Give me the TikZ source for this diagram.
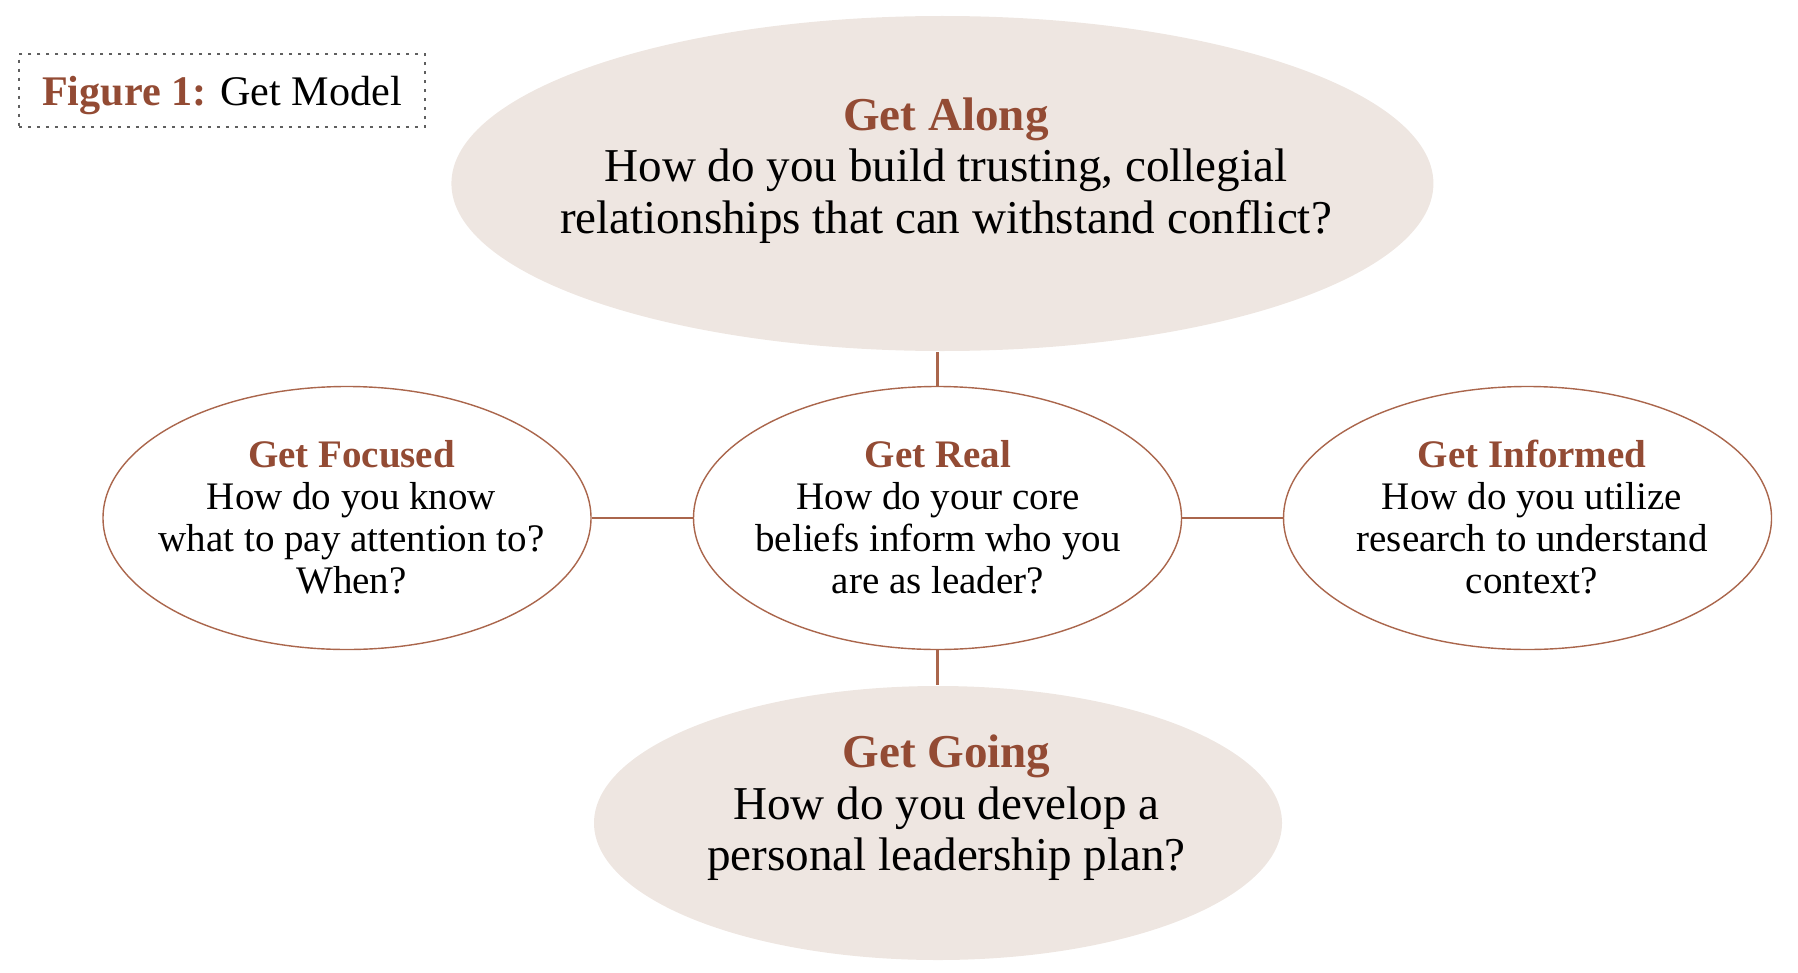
\documentclass[tikz,border=0pt]{standalone}
\usepackage{fontspec}
\setmainfont{Liberation Serif}
\usetikzlibrary{shapes.geometric, positioning}

\definecolor{getbrown}{RGB}{147,75,52}
\definecolor{getline}{RGB}{170,102,76}
\definecolor{getfill}{RGB}{238,230,225}
\definecolor{dotgray}{RGB}{95,95,95}

\newcommand{\gettitle}[1]{\textcolor{getbrown}{\textbf{#1}}}

\tikzset{
  bigblob/.style={ellipse, fill=getfill, inner sep=0pt},
  smallblob/.style={ellipse, draw=getline, line width=0.4pt, inner sep=0pt,
    minimum width=48.8mm, minimum height=26.3mm},
  link/.style={draw=getline, line width=0.6pt},
  bigtxt/.style={align=center, inner sep=0pt, anchor=base,
    font=\fontsize{13.4}{14.65}\selectfont},
  smalltxt/.style={align=center, inner sep=0pt, anchor=base,
    font=\fontsize{11.1}{11.95}\selectfont},
}

\begin{document}
\begin{tikzpicture}[x=0.1mm, y=-0.1mm]
  \useasboundingbox (0,0) rectangle (1798,972);

  % caption box
  \node[draw=dotgray, line width=0.8pt, dash pattern=on 0.8pt off 1.76pt,
    minimum width=40.6mm, minimum height=7.3mm, inner sep=0pt,
    text height=8.3pt, text depth=0pt, font=\fontsize{12}{14}\selectfont]
    (caption) at (222,90.5) {\gettitle{Figure 1:} Get Model};

  % ellipses
  \node[bigblob, minimum width=98.2mm, minimum height=33.5mm] (along) at (942.4,183.5) {};
  \node[bigblob, minimum width=68.8mm, minimum height=27.4mm] (going) at (938,823) {};
  \node[smallblob] (focused) at (347,518) {};
  \node[smallblob] (real) at (937.5,518) {};
  \node[smallblob] (informed) at (1527.5,518) {};

  % connectors
  \draw[link] (real.north) -- (real.north |- along.south);
  \draw[link] (real.south) -- (real.south |- going.north);
  \draw[link] (focused.east) -- (real.west);
  \draw[link] (real.east) -- (informed.west);

  % texts (base = last line)
  \node[bigtxt] (along-txt) at (946,233)
    {\gettitle{Get Along}\\How do you build trusting, collegial\\relationships that can withstand conflict?};
  \node[bigtxt] (going-txt) at (946.5,870.7)
    {\gettitle{Get Going}\\How do you develop a\\personal leadership plan?};
  \node[smalltxt] (focused-txt) at (351.5,593.3)
    {\gettitle{Get Focused}\\How do you know\\what to pay attention to?\\When?};
  \node[smalltxt] (real-txt) at (938,593.3)
    {\gettitle{Get Real}\\How do your core\\beliefs inform who you\\are as leader?};
  \node[smalltxt] (informed-txt) at (1532,593.3)
    {\gettitle{Get Informed}\\How do you utilize\\research to understand\\context?};
\end{tikzpicture}
\end{document}
